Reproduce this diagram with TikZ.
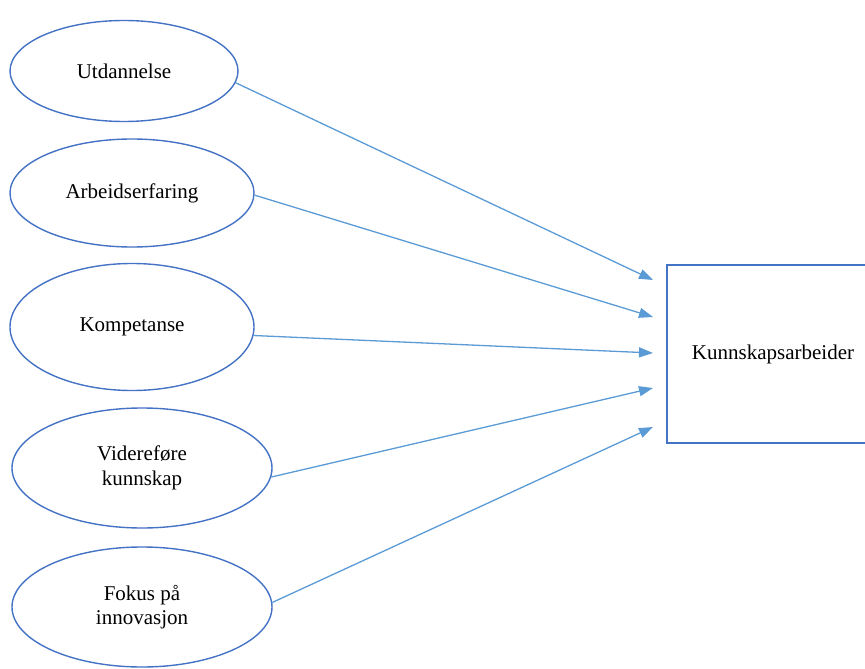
\documentclass[tikz,border=0pt]{standalone}
\usepackage{fontspec}
\setmainfont{Liberation Serif}
\usepackage{tikz}
\usetikzlibrary{shapes.geometric,arrows.meta}
\definecolor{ellblue}{HTML}{4472C4}
\definecolor{arrblue}{HTML}{5B9BD5}

\begin{document}
\begin{tikzpicture}[x=1pt,y=-1pt,
    every node/.style={font=\fontsize{21}{24.5}\selectfont,align=center},
    factor/.style={ellipse,draw=ellblue,line width=1.4pt,inner sep=0pt},
    target/.style={rectangle,draw=ellblue,line width=1.4pt,minimum width=212pt,minimum height=178pt},
    arr/.style={draw=arrblue,line width=1.3pt,-{Triangle[length=14pt,width=10pt]}}]
\clip (0,0) rectangle (865,669);
\node[factor,minimum width=228pt,minimum height=101pt] (1) at (124,71) {Utdannelse};
\node[factor,minimum width=244pt,minimum height=108pt] (2) at (132,193) {Arbeidserfaring};
\node[factor,minimum width=244pt,minimum height=127pt] (3) at (132,327) {Kompetanse};
\node[factor,minimum width=260pt,minimum height=120pt] (4) at (142,468) {Videreføre\\kunnskap};
\node[factor,minimum width=260pt,minimum height=120pt] (5) at (142,607) {Fokus på\\innovasjon};
\node[target] (k) at (773,354) {Kunnskapsarbeider};
\coordinate (t1) at (653,280);
\coordinate (t2) at (653,317);
\coordinate (t3) at (653,353);
\coordinate (t4) at (653,388);
\coordinate (t5) at (653,427);
\draw[arr] (1.-6) -- (t1);
\draw[arr] (2.-1) -- (t2);
\draw[arr] (3.-4) -- (t3);
\draw[arr] (4.-4) -- (t4);
\draw[arr] (5.2) -- (t5);
\end{tikzpicture}
\end{document}
